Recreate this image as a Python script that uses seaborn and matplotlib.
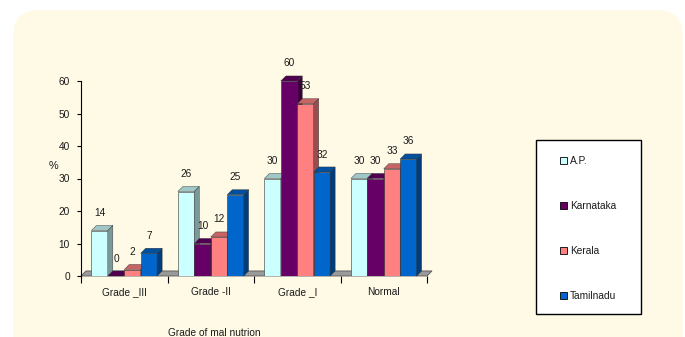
import numpy as np
import pandas as pd
import seaborn as sns
import matplotlib
matplotlib.use("Agg")
import matplotlib.pyplot as plt
from matplotlib.patches import Polygon, FancyBboxPatch, Rectangle, Patch
from matplotlib.transforms import IdentityTransform
from matplotlib.colors import to_rgb
from matplotlib.ticker import FixedLocator

# --- data -------------------------------------------------------------
grades = ["Grade _III", "Grade -II", "Grade _I", "Normal"]
states = ["A.P.", "Karnataka", "Kerala", "Tamilnadu"]
ap = [14, 26, 30, 30]
karnataka = [0, 10, 60, 30]
kerala = [2, 12, 53, 33]
tamilnadu = [7, 25, 32, 36]
front_colors = ["#CCFFFF", "#660066", "#FF8080", "#0066CC"]

df = pd.DataFrame({
    "grade": grades * 4,
    "state": np.repeat(states, len(grades)),
    "pct": ap + karnataka + kerala + tamilnadu,
})

sns.set_theme(style="white")
plt.rcParams["font.family"] = ["Liberation Sans", "DejaVu Sans"]

FS = 7.3
TXT = "#1a1a1a"

W, H = 685, 337
fig = plt.figure(figsize=(W / 100, H / 100), dpi=100)
fig.patch.set_facecolor("white")

# cream rounded panel behind the chart
fig.add_artist(FancyBboxPatch((13, -30), 670, H - 10 + 30,
                              boxstyle="round,pad=0,rounding_size=26",
                              transform=IdentityTransform(),
                              facecolor="#FFFAE6", edgecolor="none", zorder=0))

ax = fig.add_axes([81 / W, 61 / H, 346 / W, 195 / H])
ax.set_facecolor("none")

sns.barplot(data=df, x="grade", y="pct", hue="state", palette=front_colors,
            width=0.76, saturation=1, legend=False, ax=ax,
            edgecolor="#333333", linewidth=0.4)

ax.set_xlim(-0.5, 3.5)
ax.set_ylim(0, 60)

# pseudo-3D depth of the bars
dx, dy = 0.058, 1.55

def shade(c, f):
    r, g, b = to_rgb(c)
    return (r * f, g * f, b * f)

# grey floor under the bars
floor = Polygon([(-0.5, 0), (3.5, 0), (3.5 + dx, dy), (-0.5 + dx, dy)],
                closed=True, facecolor="#9A9A9A", edgecolor="#555555",
                linewidth=0.6, zorder=1.5, clip_on=False)
ax.add_patch(floor)

for j, cont in enumerate(ax.containers):
    z = 2 + j * 0.01
    col = front_colors[j]
    for bar in cont:
        bar.set_zorder(z)
        x, w, h = bar.get_x(), bar.get_width(), bar.get_height()
        top = Polygon([(x, h), (x + w, h), (x + w + dx, h + dy), (x + dx, h + dy)],
                      closed=True, facecolor=shade(col, 0.78), edgecolor="#333333",
                      linewidth=0.3, zorder=z, clip_on=False)
        side = Polygon([(x + w, 0), (x + w + dx, dy), (x + w + dx, h + dy), (x + w, h)],
                       closed=True, facecolor=shade(col, 0.6), edgecolor="#333333",
                       linewidth=0.3, zorder=z, clip_on=False)
        ax.add_patch(top)
        ax.add_patch(side)
    ax.bar_label(cont, labels=[f"{v:g}" for v in cont.datavalues],
                 padding=9, fontsize=FS, color=TXT, zorder=z)

# axes styling
for s in ["top", "right", "bottom"]:
    ax.spines[s].set_visible(False)
ax.spines["left"].set_color("black")
ax.spines["left"].set_linewidth(0.8)
ax.set_yticks(range(0, 61, 10))
ax.tick_params(axis="y", length=3, width=0.8, direction="out", labelsize=FS,
               colors="black", labelcolor=TXT, pad=5, left=True)
ax.xaxis.set_minor_locator(FixedLocator([-0.5, 0.5, 1.5, 2.5, 3.5]))
ax.tick_params(axis="x", which="major", length=0, pad=8, labelsize=FS,
               labelcolor=TXT)
ax.tick_params(axis="x", which="minor", length=5, width=0.8, direction="out",
               color="black", bottom=True)
ax.set_xlabel("")
ax.set_ylabel("%", rotation=0, fontsize=FS + 0.5, color=TXT)
ax.yaxis.set_label_coords(-0.081, 0.54)
ax.grid(False)

fig.text(214 / W, 1 - 333 / H, "Grade of mal nutrion", ha="center", va="center",
         fontsize=FS, color=TXT)

# legend box
fig.add_artist(Rectangle((536, H - 314), 105, 174, transform=IdentityTransform(),
                         facecolor="white", edgecolor="black", linewidth=1.0,
                         zorder=3))
handles = [Patch(facecolor=c, edgecolor="black", linewidth=0.6) for c in front_colors]
leg = fig.legend(handles, states, loc="upper left",
                 bbox_to_anchor=(560 / W, (H - 156) / H), frameon=False,
                 fontsize=FS, handlelength=0.7, handleheight=0.7,
                 handletextpad=0.25, labelspacing=3.45, borderpad=0,
                 borderaxespad=0)
leg.set_zorder(4)
for t in leg.get_texts():
    t.set_color(TXT)

fig.savefig("out.png", dpi=100)
